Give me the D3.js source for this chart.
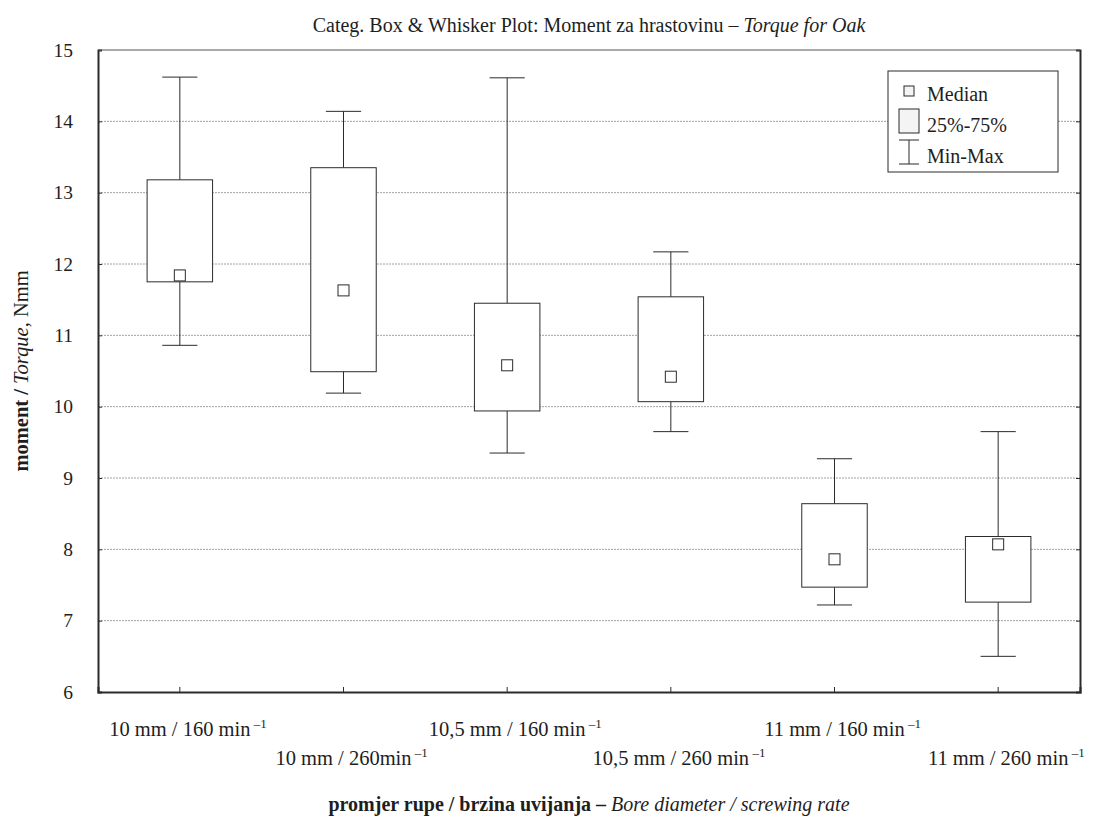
<!DOCTYPE html>
<html>
<head>
<meta charset="utf-8">
<script src="https://cdn.jsdelivr.net/npm/d3@7"></script>
<style>
  html, body { margin: 0; padding: 0; background: #fff; }
  svg { display: block; font-family: "Liberation Serif", "Times New Roman", serif; }
</style>
</head>
<body>
<svg id="chart" width="1099" height="816"></svg>
<script>
// Torque for oak: six bore diameter / screwing rate groups
const categories = ["10 mm / 160 min", "10 mm / 260min", "10,5 mm / 160 min", "10,5 mm / 260 min", "11 mm / 160 min", "11 mm / 260 min"];
const maxValues    = [14.62, 14.14, 14.61, 12.17, 9.27, 9.65];
const q3Values     = [13.18, 13.35, 11.45, 11.54, 8.64, 8.18];
const medianValues = [11.84, 11.63, 10.58, 10.42, 7.86, 8.07];
const q1Values     = [11.75, 10.49, 9.94, 10.07, 7.47, 7.26];
const minValues    = [10.86, 10.19, 9.35, 9.65, 7.22, 6.50];
const yTicks = [6, 7, 8, 9, 10, 11, 12, 13, 14, 15];
const gridTicks = [7, 8, 9, 10, 11, 12, 13, 14];

const rows = categories.map((c, i) => ({
  cat: c, max: maxValues[i], q3: q3Values[i], med: medianValues[i], q1: q1Values[i], min: minValues[i]
}));

const svg = d3.select("#chart");
const plotL = 98, plotR = 1080, plotT = 50, plotB = 692;

const x = d3.scaleBand().domain(categories).range([plotL, plotR]).padding(0);
const y = d3.scaleLinear().domain([6, 15]).range([plotB, plotT]);

const ink = "#2b2b2b";
const textCol = "#1e1e1e";

// horizontal grid
svg.append("g").selectAll("line").data(gridTicks).join("line")
  .attr("x1", plotL).attr("x2", plotR)
  .attr("y1", d => y(d)).attr("y2", d => y(d))
  .attr("stroke", "#a0a0a0").attr("stroke-width", 1)
  .attr("stroke-dasharray", "2,1");

// axes
const yAxis = svg.append("g").attr("transform", `translate(${plotL},0)`)
  .call(d3.axisLeft(y).tickValues(yTicks).tickSize(-4).tickPadding(25).tickFormat(d3.format("d")));
yAxis.select(".domain").attr("stroke", ink).attr("stroke-width", 2);
yAxis.selectAll(".tick line").attr("stroke", ink);
yAxis.selectAll("text").attr("font-size", 19.5).attr("fill", textCol)
  .attr("font-family", "Liberation Serif, serif");

const yAxisR = svg.append("g").attr("transform", `translate(${plotR},0)`)
  .call(d3.axisRight(y).tickValues(yTicks).tickSize(-4).tickFormat(""));
yAxisR.select(".domain").attr("stroke", ink).attr("stroke-width", 2);
yAxisR.selectAll(".tick line").attr("stroke", ink);

const xAxis = svg.append("g").attr("transform", `translate(0,${plotB})`)
  .call(d3.axisBottom(x).tickSize(-5).tickFormat(""));
xAxis.select(".domain").attr("stroke", ink).attr("stroke-width", 2);
xAxis.selectAll(".tick line").attr("stroke", ink);

svg.append("line").attr("x1", plotL).attr("x2", plotR).attr("y1", plotT).attr("y2", plotT)
  .attr("stroke", "#555").attr("stroke-width", 1);

// category labels, staggered over two rows; main text centred on the tick,
// the exponent hangs after it
const labFont = 20.5;
const lab = svg.append("g").selectAll("text").data(categories).join("text")
  .attr("y", (d, i) => i % 2 === 0 ? 736 : 765)
  .attr("font-size", labFont).attr("fill", textCol);
lab.append("tspan").attr("class", "main").text(d => d);
lab.append("tspan").text("\u00a0\u20131").attr("font-size", 13).attr("dy", -8);
lab.each(function (d) {
  const len = d3.select(this).select("tspan.main").node().getComputedTextLength();
  d3.select(this).attr("x", x(d) + x.bandwidth() / 2 - len / 2);
});

// boxes
const bw = x.bandwidth() * 0.4;
const cw = x.bandwidth() * 0.215;
const ms = 11;
const g = svg.append("g").selectAll("g").data(rows).join("g")
  .attr("transform", d => `translate(${x(d.cat) + x.bandwidth() / 2},0)`);

g.append("line").attr("x1", 0).attr("x2", 0)
  .attr("y1", d => y(d.max)).attr("y2", d => y(d.q3))
  .attr("stroke", ink);
g.append("line").attr("x1", 0).attr("x2", 0)
  .attr("y1", d => y(d.q1)).attr("y2", d => y(d.min))
  .attr("stroke", ink);
g.append("line").attr("x1", -cw / 2).attr("x2", cw / 2)
  .attr("y1", d => y(d.max)).attr("y2", d => y(d.max)).attr("stroke", ink);
g.append("line").attr("x1", -cw / 2).attr("x2", cw / 2)
  .attr("y1", d => y(d.min)).attr("y2", d => y(d.min)).attr("stroke", ink);
g.append("rect").attr("x", -bw / 2).attr("width", bw)
  .attr("y", d => y(d.q3)).attr("height", d => y(d.q1) - y(d.q3))
  .attr("fill", "#fff").attr("stroke", ink).attr("stroke-width", 1);
g.append("rect").attr("x", -ms / 2).attr("width", ms)
  .attr("y", d => y(d.med) - ms / 2).attr("height", ms)
  .attr("fill", "#fff").attr("stroke", ink).attr("stroke-width", 1);

// legend
const lg = svg.append("g");
lg.append("rect").attr("x", 888).attr("y", 71).attr("width", 170).attr("height", 101)
  .attr("fill", "#fff").attr("stroke", ink);
lg.append("rect").attr("x", 904).attr("y", 86).attr("width", 10).attr("height", 10)
  .attr("fill", "#f4f4f4").attr("stroke", ink);
lg.append("rect").attr("x", 899).attr("y", 109).attr("width", 20).attr("height", 24)
  .attr("fill", "#f4f4f4").attr("stroke", ink);
lg.append("line").attr("x1", 899).attr("x2", 919).attr("y1", 140).attr("y2", 140).attr("stroke", ink);
lg.append("line").attr("x1", 899).attr("x2", 919).attr("y1", 164).attr("y2", 164).attr("stroke", ink);
lg.append("line").attr("x1", 909).attr("x2", 909).attr("y1", 140).attr("y2", 164).attr("stroke", ink);
[["Median", 101], ["25%-75%", 132], ["Min-Max", 163]].forEach(([t, yy]) => {
  lg.append("text").attr("x", 927).attr("y", yy).attr("font-size", 20).attr("fill", textCol).text(t);
});

// title
const title = svg.append("text").attr("x", (plotL + plotR) / 2).attr("y", 32)
  .attr("text-anchor", "middle").attr("font-size", 20).attr("fill", textCol);
title.append("tspan").text("Categ. Box & Whisker Plot: Moment za hrastovinu \u2013 ");
title.append("tspan").attr("font-style", "italic").text("Torque for Oak");

// y axis title
const yt = svg.append("text").attr("transform", `translate(28,${(plotT + plotB) / 2}) rotate(-90)`)
  .attr("text-anchor", "middle").attr("font-size", 20.5).attr("fill", textCol);
yt.append("tspan").attr("font-weight", "bold").text("moment / ");
yt.append("tspan").attr("font-style", "italic").text("Torque,");
yt.append("tspan").text(" Nmm");

// x axis title
const xt = svg.append("text").attr("x", (plotL + plotR) / 2).attr("y", 811)
  .attr("text-anchor", "middle").attr("font-size", 20).attr("fill", textCol);
xt.append("tspan").attr("font-weight", "bold").text("promjer rupe / brzina uvijanja \u2013");
xt.append("tspan").attr("font-style", "italic").text(" Bore diameter / screwing rate");
</script>
</body>
</html>
